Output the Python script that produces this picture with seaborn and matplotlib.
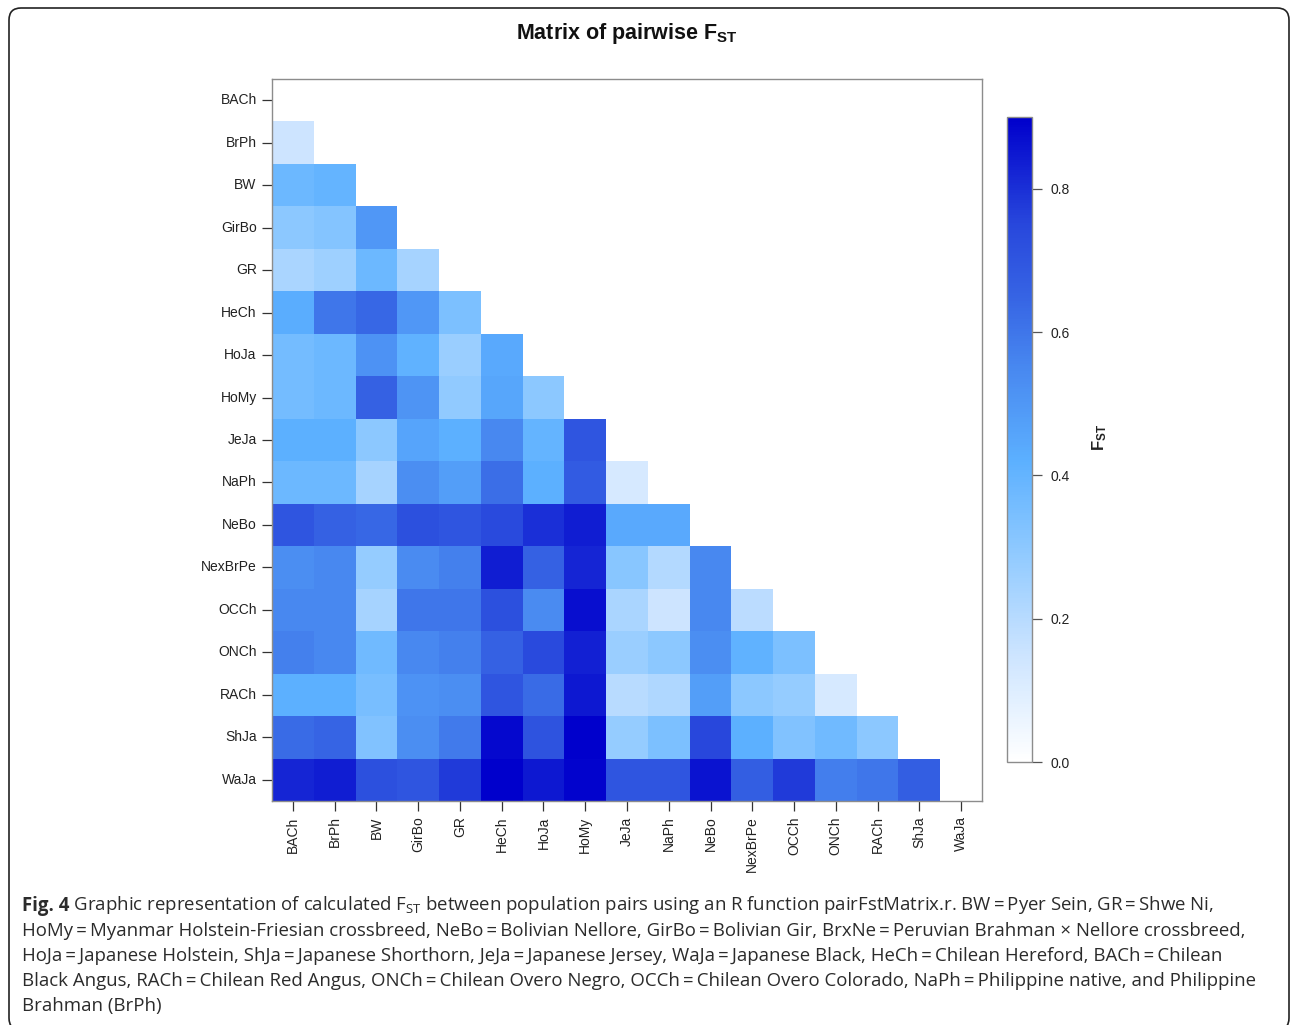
import numpy as np
import pandas as pd
import matplotlib
matplotlib.use("Agg")
import matplotlib.pyplot as plt
from matplotlib.colors import LinearSegmentedColormap
from matplotlib.patches import FancyBboxPatch
import seaborn as sns

sns.set_style("white")
plt.rcParams['font.family'] = ['Liberation Sans', 'DejaVu Sans']
plt.rcParams['mathtext.fontset'] = 'custom'
plt.rcParams['mathtext.rm'] = 'Open Sans'
plt.rcParams['mathtext.bf'] = 'Liberation Sans:bold'

# population codes (row / column order)
pops = ["BACh", "BrPh", "BW", "GirBo", "GR", "HeCh", "HoJa", "HoMy", "JeJa",
        "NaPh", "NeBo", "NexBrPe", "OCCh", "ONCh", "RACh", "ShJa", "WaJa"]

# lower triangle of pairwise Fst, one list per row
fst_BrPh = [0.15]
fst_BW = [0.38, 0.40]
fst_GirBo = [0.30, 0.32, 0.50]
fst_GR = [0.23, 0.26, 0.38, 0.24]
fst_HeCh = [0.43, 0.60, 0.64, 0.50, 0.34]
fst_HoJa = [0.36, 0.38, 0.52, 0.41, 0.27, 0.44]
fst_HoMy = [0.36, 0.38, 0.66, 0.51, 0.29, 0.45, 0.30]
fst_JeJa = [0.42, 0.42, 0.30, 0.46, 0.42, 0.55, 0.40, 0.70]
fst_NaPh = [0.38, 0.38, 0.24, 0.53, 0.48, 0.62, 0.42, 0.68, 0.12]
fst_NeBo = [0.70, 0.66, 0.64, 0.72, 0.70, 0.74, 0.80, 0.84, 0.44, 0.44]
fst_NexBrPe = [0.53, 0.55, 0.28, 0.54, 0.57, 0.84, 0.66, 0.82, 0.31, 0.21, 0.55]
fst_OCCh = [0.55, 0.55, 0.24, 0.60, 0.60, 0.72, 0.54, 0.87, 0.23, 0.15, 0.55, 0.19]
fst_ONCh = [0.57, 0.55, 0.37, 0.55, 0.57, 0.66, 0.74, 0.83, 0.27, 0.30, 0.53, 0.41, 0.34]
fst_RACh = [0.42, 0.42, 0.35, 0.52, 0.53, 0.70, 0.63, 0.85, 0.20, 0.22, 0.48, 0.30, 0.28, 0.12]
fst_ShJa = [0.63, 0.65, 0.33, 0.53, 0.59, 0.88, 0.71, 0.90, 0.28, 0.34, 0.75, 0.42, 0.33, 0.37, 0.30]
fst_WaJa = [0.82, 0.84, 0.72, 0.70, 0.78, 0.90, 0.85, 0.89, 0.70, 0.70, 0.86, 0.67, 0.78, 0.58, 0.60, 0.67]

rows = [[], fst_BrPh, fst_BW, fst_GirBo, fst_GR, fst_HeCh, fst_HoJa, fst_HoMy,
        fst_JeJa, fst_NaPh, fst_NeBo, fst_NexBrPe, fst_OCCh, fst_ONCh, fst_RACh,
        fst_ShJa, fst_WaJa]

mat = np.full((len(pops), len(pops)), np.nan)
for i, r in enumerate(rows):
    mat[i, :len(r)] = r
df = pd.DataFrame(mat, index=pops, columns=pops)

vmax = 0.9
nodes = [(0.0, "#FFFFFF"), (0.15, "#CCE4FF"), (0.30, "#8CC8FF"), (0.42, "#5CB0FF"),
         (0.55, "#4888F0"), (0.65, "#3664E4"), (0.75, "#2848DC"), (0.90, "#0000CC")]
cmap = LinearSegmentedColormap.from_list("fst", [(v / vmax, c) for v, c in nodes])

W, H = 1290, 1025
fig = plt.figure(figsize=(W / 100, H / 100), dpi=100)

def box(x0, y0, x1, y1):
    return [x0 / W, 1 - y1 / H, (x1 - x0) / W, (y1 - y0) / H]

ax = fig.add_axes(box(272, 79, 982, 801))
cax = fig.add_axes(box(1007, 117, 1032, 762))

sns.heatmap(df, cmap=cmap, vmin=0, vmax=vmax, ax=ax, cbar_ax=cax,
            square=False, linewidths=0)

grey = "#8c8c8c"
for s in ax.spines.values():
    s.set_visible(True)
    s.set_color(grey)
    s.set_linewidth(1)
ax.tick_params(axis="both", bottom=True, left=True, length=7, width=0.9,
               color="#333333", labelsize=10, pad=4, labelcolor="#222222")
ax.set_xticklabels(pops, rotation=90)
ax.set_yticklabels(pops, rotation=0)
ax.set_xlabel("")
ax.set_ylabel("")

cb = ax.collections[0].colorbar
cb.set_ticks([0.0, 0.2, 0.4, 0.6, 0.8])
cb.set_ticklabels(["0.0", "0.2", "0.4", "0.6", "0.8"])
cb.outline.set_edgecolor(grey)
cb.outline.set_linewidth(1)
cax.tick_params(axis="y", right=True, length=7, width=0.9, color="#555555",
                labelsize=10, pad=6, labelcolor="#222222")

fig.text(1100 / W, 1 - 437 / H, r"$\mathbf{F_{ST}}$", rotation=90, fontsize=12,
         ha="center", va="center", color="#222222")

fig.text(627 / W, 1 - 33 / H, r"Matrix of pairwise $\mathbf{F_{ST}}$",
         fontsize=15.5, fontweight="bold", ha="center", va="center", color="#111111")

# rounded frame around the figure panel
fig.patches.append(FancyBboxPatch((0.09, -0.05), 12.8, (H - 8) / 100 + 0.05,
                                  boxstyle="round,pad=0,rounding_size=0.12",
                                  transform=fig.dpi_scale_trans, fill=False,
                                  edgecolor="#222222", linewidth=1.2))

eq = "\u2009=\u2009"
cap_lines = [
    r"Graphic representation of calculated $\mathrm{F}_{\mathrm{ST}}$ between population pairs using an R function pairFstMatrix.r. BW" + eq + "Pyer Sein, GR" + eq + "Shwe Ni,",
    "HoMy" + eq + "Myanmar Holstein-Friesian crossbreed, NeBo" + eq + "Bolivian Nellore, GirBo" + eq + "Bolivian Gir, BrxNe" + eq + "Peruvian Brahman \u00d7 Nellore crossbreed,",
    "HoJa" + eq + "Japanese Holstein, ShJa" + eq + "Japanese Shorthorn, JeJa" + eq + "Japanese Jersey, WaJa" + eq + "Japanese Black, HeCh" + eq + "Chilean Hereford, BACh" + eq + "Chilean",
    "Black Angus, RACh" + eq + "Chilean Red Angus, ONCh" + eq + "Chilean Overo Negro, OCCh" + eq + "Chilean Overo Colorado, NaPh" + eq + "Philippine native, and Philippine",
    "Brahman (BrPh)",
]
cap_font = dict(family=["Open Sans", "DejaVu Sans"], fontsize=13.45, color="#2b2b2b")
for k, line in enumerate(cap_lines):
    y = 1 - (911 + 25 * k) / H
    if k == 0:
        t = fig.text(22 / W, y, "Fig. 4", fontweight="bold", va="baseline", **cap_font)
        ax.annotate(" " + line, xy=(1, 0), xycoords=t, va="bottom",
                    annotation_clip=False, **cap_font)
    else:
        fig.text(22 / W, y, line, va="baseline", **cap_font)

fig.savefig("out.png", dpi=100)
